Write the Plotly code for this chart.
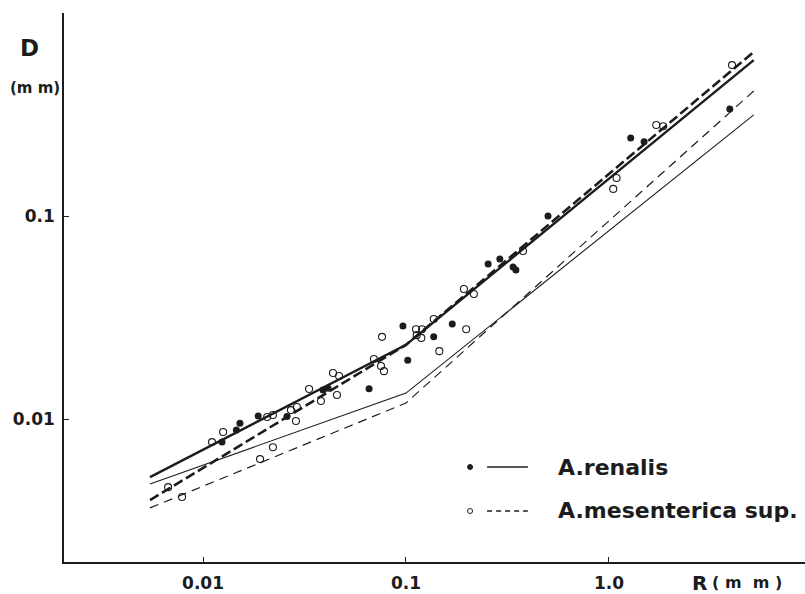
import plotly.graph_objects as go

# ---- data (R and D in mm) ----
renalis_R = [0.0124, 0.0146, 0.0152, 0.0187, 0.0259, 0.0390, 0.0413, 0.0658,
             0.0966, 0.102, 0.137, 0.169, 0.254, 0.290, 0.337, 0.348, 0.501,
             1.28, 1.49, 3.94]
renalis_D = [0.00770, 0.00883, 0.00955, 0.01035, 0.0103, 0.0139, 0.0142, 0.0141,
             0.0287, 0.0195, 0.0254, 0.0294, 0.0580, 0.0614, 0.0561, 0.0542, 0.100,
             0.242, 0.232, 0.337]

mesent_R = [0.00673, 0.00788, 0.01107, 0.01256, 0.0207, 0.0221, 0.0191, 0.0221,
            0.0287, 0.0271, 0.0290, 0.0333, 0.0381, 0.0457, 0.0437, 0.0468,
            0.0695, 0.0753, 0.0779, 0.0762, 0.112, 0.120, 0.113, 0.119, 0.137,
            0.146, 0.198, 0.193, 0.216, 0.377, 1.05, 1.09, 1.71, 1.85, 4.04]
mesent_D = [0.00462, 0.00413, 0.00770, 0.00863, 0.01023, 0.01047, 0.00635, 0.00727,
            0.00978, 0.01107, 0.01146, 0.01406, 0.01227, 0.01313, 0.01687, 0.01629,
            0.01977, 0.01825, 0.01722, 0.0254, 0.0277, 0.0277, 0.0259, 0.0251, 0.0311,
            0.0216, 0.0277, 0.0437, 0.0413, 0.0673, 0.136, 0.154, 0.281, 0.277, 0.554]

fit_R = [0.00548, 0.1, 5.17]
renalis_fit_D = [0.00518, 0.0232, 0.586]      # thick solid
mesent_fit_D = [0.00399, 0.0232, 0.643]       # thick dashed
renalis_thin_D = [0.00479, 0.01343, 0.315]    # thin solid
mesent_thin_D = [0.00365, 0.0120, 0.413]      # thin dashed

x_tickvals = [0.01, 0.1, 1.0]
x_ticktext = ["0.01", "0.1", "1.0"]
y_tickvals = [0.01, 0.1]
y_ticktext = ["0.01", "0.1"]

INK = "#1c1c1c"
FONT = "DejaVu Sans"

fig = go.Figure()

fig.add_trace(go.Scatter(x=fit_R, y=renalis_thin_D, mode="lines",
                         line=dict(color=INK, width=1.1), showlegend=False))
fig.add_trace(go.Scatter(x=fit_R, y=mesent_thin_D, mode="lines",
                         line=dict(color=INK, width=1.2, dash="9px,6px"), showlegend=False))
fig.add_trace(go.Scatter(x=fit_R, y=mesent_fit_D, mode="lines",
                         line=dict(color=INK, width=2.6, dash="10px,4px"), showlegend=False))
fig.add_trace(go.Scatter(x=fit_R, y=renalis_fit_D, mode="lines",
                         line=dict(color=INK, width=2.4), showlegend=False))

fig.add_trace(go.Scatter(x=renalis_R, y=renalis_D, mode="markers",
                         marker=dict(symbol="circle", size=7, color=INK), showlegend=False))
fig.add_trace(go.Scatter(x=mesent_R, y=mesent_D, mode="markers",
                         marker=dict(symbol="circle-open", size=7, color=INK,
                                     line=dict(width=1.1, color=INK)), showlegend=False))

fig.update_layout(
    width=805, height=594,
    margin=dict(l=64, r=0, t=13, b=32, autoexpand=False),
    paper_bgcolor="white", plot_bgcolor="white",
    xaxis=dict(type="log", range=[-2.685, 0.966], showgrid=False, zeroline=False,
               showline=True, linecolor=INK, linewidth=1.6,
               ticks="inside", ticklen=5, tickwidth=1.2, tickcolor=INK,
               tickvals=x_tickvals, ticktext=x_ticktext, ticklabelstandoff=5,
               tickfont=dict(family=FONT, size=17, color=INK, weight="bold")),
    yaxis=dict(type="log", range=[-2.704, 0.0], showgrid=False, zeroline=False,
               showline=True, linecolor=INK, linewidth=1.6,
               ticks="inside", ticklen=5, tickwidth=1.2, tickcolor=INK,
               tickvals=y_tickvals, ticktext=y_ticktext, ticklabelstandoff=4,
               tickfont=dict(family=FONT, size=17, color=INK, weight="bold")),
    showlegend=False,
)

# axis titles
fig.add_annotation(text="D", xref="paper", yref="paper", x=-0.0459, y=0.936,
                   xanchor="center", yanchor="middle", showarrow=False,
                   font=dict(family=FONT, size=23, color=INK, weight="bold"))
fig.add_annotation(text="(m\u00a0m)", xref="paper", yref="paper", x=-0.039, y=0.863,
                   xanchor="center", yanchor="middle", showarrow=False,
                   font=dict(family=FONT, size=15, color=INK, weight="bold"))
fig.add_annotation(text="R", xref="paper", yref="paper", x=0.858, y=-0.038,
                   xanchor="center", yanchor="middle", showarrow=False,
                   font=dict(family=FONT, size=20, color=INK, weight="bold"))
fig.add_annotation(text="(\u00a0m\u00a0\u00a0m\u00a0)", xref="paper", yref="paper",
                   x=0.922, y=-0.038, xanchor="center", yanchor="middle", showarrow=False,
                   font=dict(family=FONT, size=16, color=INK, weight="bold"))

# legend
leg_y = [0.173, 0.0929]
leg_names = ["A.renalis", "A.mesenterica sup."]
leg_dash = ["solid", "5px,4px"]
leg_fill = [INK, "white"]
for yy, name, dsh, fc in zip(leg_y, leg_names, leg_dash, leg_fill):
    fig.add_shape(type="circle", xref="paper", yref="paper",
                  xsizemode="pixel", ysizemode="pixel", xanchor=0.548, yanchor=yy,
                  x0=-2.5, x1=2.5, y0=-2.5, y1=2.5,
                  line=dict(color=INK, width=1), fillcolor=fc)
    fig.add_shape(type="line", xref="paper", yref="paper", x0=0.571, x1=0.626, y0=yy, y1=yy,
                  line=dict(color=INK, width=1.3, dash=dsh))
    fig.add_annotation(text=name, xref="paper", yref="paper", x=0.664, y=yy,
                       xanchor="left", yanchor="middle", showarrow=False,
                       font=dict(family=FONT, size=22, color=INK, weight="bold"))

fig.write_html("out.html", config={"displayModeBar": False},
               post_script="document.body.style.margin='0';document.body.style.overflow='hidden';")
